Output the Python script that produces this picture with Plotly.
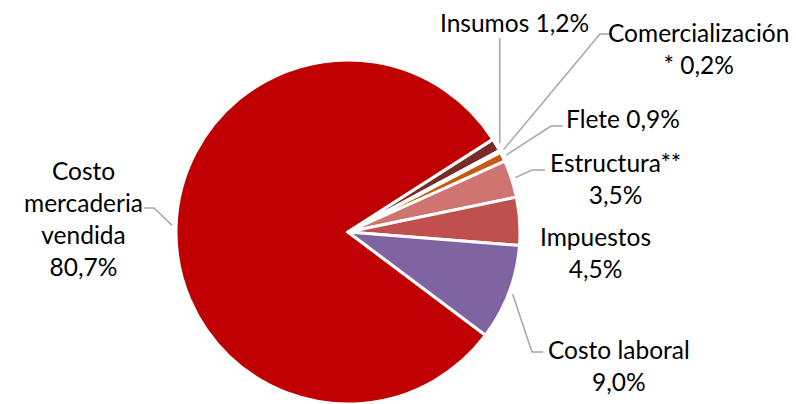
import math
import plotly.graph_objects as go

# ---- data ----
categories = ["Costo mercaderia vendida", "Insumos", "Comercialización *", "Flete",
              "Estructura**", "Impuestos", "Costo laboral"]
values = [80.7, 1.2, 0.2, 0.9, 3.5, 4.5, 9.0]
label_texts = ["Costo<br>mercaderia<br>vendida<br>80,7%", "Insumos 1,2%",
               "Comercialización<br>* 0,2%", "Flete 0,9%", "Estructura**<br>3,5%",
               "Impuestos<br>4,5%", "Costo laboral<br>9,0%"]

# ---- style ----
colors = ["#C00000", "#772C2A", "#D9D9D9", "#C55A11", "#D07471", "#C0504D", "#8064A2"]
W, H = 796, 404
ROT = 126.9
CX, CY, R = 348, 232, 172
FONT = "Lato"
FS = 24.5

# label positions (pixels) and leader-line elbows (None = no leader)
label_pos = [(83, 218), (514, 22), (698, 48), (623, 118), (615, 179), (595, 252), (619, 365)]
elbows = [((154, 208), (144, 208)), ("vertical", 38), ((600, 34), (612, 34)),
          ((551, 126), (563, 126)), ((532, 170), (545, 170)), None,
          ((532, 352), (543, 352))]

fig = go.Figure(go.Pie(
    labels=categories, values=values, sort=False, direction="clockwise",
    rotation=ROT, marker=dict(colors=colors, line=dict(color="white", width=3)),
    textinfo="none", hoverinfo="label+percent", showlegend=False,
    domain=dict(x=[(CX - R) / W, (CX + R) / W], y=[(H - CY - R) / H, (H - CY + R) / H]),
))

def px(x):
    return x / W

def py(y):
    return 1 - y / H

total = sum(values)
cum = 0.0
shapes = []
annotations = []
for v, txt, (lx, ly), el in zip(values, label_texts, label_pos, elbows):
    mid = ROT + (cum + v / 2) / total * 360
    cum += v
    a = math.radians(mid)
    ex = CX + (R + 4) * math.sin(a)
    ey = CY - (R + 4) * math.cos(a)
    annotations.append(dict(x=px(lx), y=py(ly), xref="paper", yref="paper",
                            text=txt, showarrow=False, xanchor="center", yanchor="middle",
                            align="center", font=dict(family=FONT, size=FS, color="#000000")))
    if el is None:
        continue
    if el[0] == "vertical":
        path = f"M{px(ex)},{py(el[1])} L{px(ex)},{py(ey)}"
    else:
        (bx, by), (hx, hy) = el
        path = f"M{px(ex)},{py(ey)} L{px(bx)},{py(by)} L{px(hx)},{py(hy)}"
    shapes.append(dict(type="path", path=path, xref="paper", yref="paper",
                       line=dict(color="#A6A6A6", width=1.5)))

fig.update_layout(width=W, height=H, margin=dict(l=0, r=0, t=0, b=0),
                  paper_bgcolor="white", plot_bgcolor="white",
                  shapes=shapes, annotations=annotations)
fig.write_html("out.html", config={"displayModeBar": False},
               post_script="document.body.style.margin='0px';document.body.style.overflow='hidden';")
